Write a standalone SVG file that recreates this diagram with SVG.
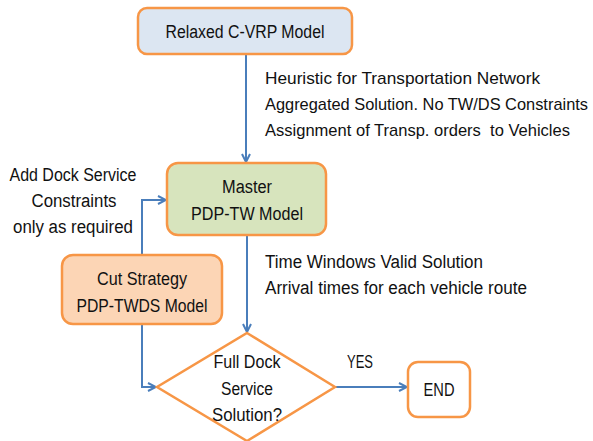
<svg xmlns="http://www.w3.org/2000/svg" width="593" height="441" viewBox="0 0 593 441">
  <style>
    .box { stroke: #f79646; stroke-width: 2.5; }
    .t { font-family: "Liberation Sans", Arial, sans-serif; font-size: 18px; fill: #111; }
    .n { font-size: 17px; }
    .c { text-anchor: middle; }
    .edge { fill: none; stroke: #4a7ebb; stroke-width: 2; }
  </style>
  <defs>
    <marker id="arrow" viewBox="0 0 10 10" refX="9" refY="5" markerWidth="10" markerHeight="10" markerUnits="userSpaceOnUse" orient="auto">
      <path d="M1,1 L9,5 L1,9" fill="none" stroke="#4a7ebb" stroke-width="2"/>
    </marker>
  </defs>
  <rect width="593" height="441" fill="#ffffff"/>

  <!-- connectors -->
  <g id="connectors">
    <path class="edge" d="M246,54 V162" marker-end="url(#arrow)"/>
    <path class="edge" d="M247,235 V332" marker-end="url(#arrow)"/>
    <path class="edge" d="M142,255 V200 H166" marker-end="url(#arrow)"/>
    <path class="edge" d="M142,324 V387 H156" marker-end="url(#arrow)"/>
    <path class="edge" d="M335,387 H407" marker-end="url(#arrow)"/>
  </g>

  <g id="relaxed">
    <rect class="box" x="138" y="8" width="214" height="46" rx="9" fill="#dce6f2"/>
    <text class="t c" x="245" y="38" textLength="159" lengthAdjust="spacingAndGlyphs">Relaxed C-VRP Model</text>
  </g>

  <g id="heuristic-notes">
    <text class="t n" x="265" y="84" textLength="275" lengthAdjust="spacingAndGlyphs">Heuristic for Transportation Network</text>
    <text class="t n" x="265" y="110" style="font-size:16.4px" textLength="323" lengthAdjust="spacingAndGlyphs">Aggregated Solution. No TW/DS Constraints</text>
    <text class="t n" x="265" y="136" textLength="305" lengthAdjust="spacingAndGlyphs" xml:space="preserve">Assignment of Transp. orders  to Vehicles</text>
  </g>

  <g id="master">
    <rect class="box" x="167" y="163" width="159" height="72" rx="11" fill="#d7e4bd"/>
    <text class="t c" x="247" y="193" textLength="50" lengthAdjust="spacingAndGlyphs">Master</text>
    <text class="t c" x="247" y="220" textLength="112" lengthAdjust="spacingAndGlyphs">PDP-TW Model</text>
  </g>

  <g id="dock-note">
    <text class="t c" x="73" y="181" textLength="127" lengthAdjust="spacingAndGlyphs">Add Dock Service</text>
    <text class="t c" x="74" y="207" textLength="85" lengthAdjust="spacingAndGlyphs">Constraints</text>
    <text class="t c" x="73" y="233" textLength="120" lengthAdjust="spacingAndGlyphs">only as required</text>
  </g>

  <g id="tw-notes">
    <text class="t" x="265" y="268" textLength="218" lengthAdjust="spacingAndGlyphs">Time Windows Valid Solution</text>
    <text class="t" x="265" y="294" textLength="262" lengthAdjust="spacingAndGlyphs">Arrival times for each vehicle route</text>
  </g>

  <g id="cut">
    <rect class="box" x="62" y="255" width="160" height="69" rx="11" fill="#fcd5b5"/>
    <text class="t c" x="142" y="285" textLength="90" lengthAdjust="spacingAndGlyphs">Cut Strategy</text>
    <text class="t c" x="142" y="312" textLength="131" lengthAdjust="spacingAndGlyphs">PDP-TWDS Model</text>
  </g>

  <g id="decision">
    <polygon class="box" points="247,333 335,387 247,441 157,387" fill="#ffffff"/>
    <text class="t c" x="247" y="368" textLength="67" lengthAdjust="spacingAndGlyphs">Full Dock</text>
    <text class="t c" x="247" y="395" textLength="52" lengthAdjust="spacingAndGlyphs">Service</text>
    <text class="t c" x="247" y="421" textLength="70" lengthAdjust="spacingAndGlyphs">Solution?</text>
  </g>

  <g id="yes-label">
    <text class="t c" x="360" y="368" textLength="26" lengthAdjust="spacingAndGlyphs">YES</text>
  </g>

  <g id="end">
    <rect class="box" x="408" y="362" width="62" height="55" rx="10" fill="#ffffff"/>
    <text class="t c" x="439" y="396" textLength="31" lengthAdjust="spacingAndGlyphs">END</text>
  </g>
</svg>
